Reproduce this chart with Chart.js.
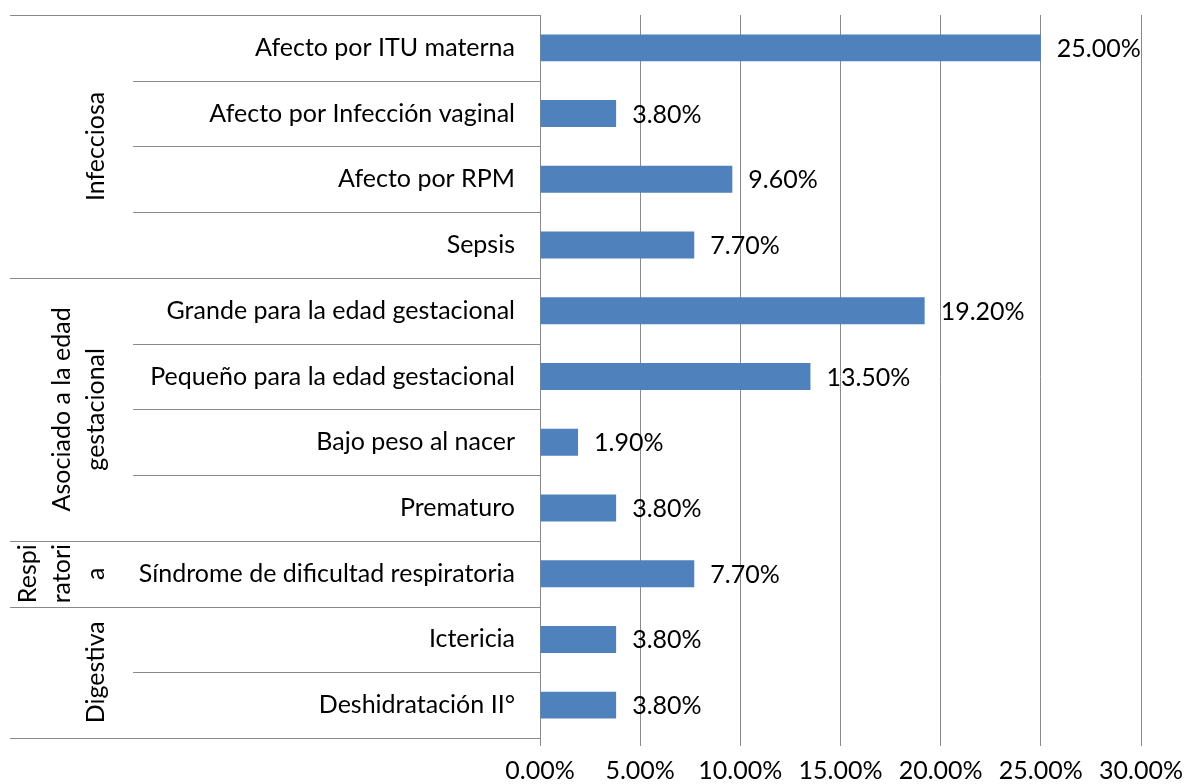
<!DOCTYPE html>
<html>
<head>
<meta charset="utf-8">
<script src="https://cdn.jsdelivr.net/npm/chart.js@4.4.1/dist/chart.umd.min.js"></script>
<style>
html,body{margin:0;padding:0;background:#fff;}
#c{display:block;}
</style>
</head>
<body>
<canvas id="c" width="1189" height="784"></canvas>
<script>
const categories = [
  'Afecto por ITU materna',
  'Afecto por Infección vaginal',
  'Afecto por RPM',
  'Sepsis',
  'Grande para la edad gestacional',
  'Pequeño para la edad gestacional',
  'Bajo peso al nacer',
  'Prematuro',
  'Síndrome de dificultad respiratoria',
  'Ictericia',
  'Deshidratación II°'
];
const values = [25.0, 3.8, 9.6, 7.7, 19.2, 13.5, 1.9, 3.8, 7.7, 3.8, 3.8];
const groupLabels = [['Infecciosa'], ['Asociado a la edad', 'gestacional'], ['Respi', 'ratori', 'a'], ['Digestiva']];
const groupSizes = [4, 4, 1, 2];
const xTickValues = [0, 5, 10, 15, 20, 25, 30];

const FONT = 'Lato, Carlito, "Liberation Sans", sans-serif';
const FS = 25;
const GRID = '#8a8a8a';

const fmt = v => v.toFixed(2) + '%';

const decoPlugin = {
  id: 'deco',
  afterDraw(chart) {
    const ctx = chart.ctx;
    const ys = chart.scales.y;
    const left = chart.chartArea.left;
    const p0 = ys.getPixelForValue(0);
    const step = ys.getPixelForValue(1) - p0;
    const bound = k => p0 + (k - 0.5) * step;
    const groupStarts = new Set([0]);
    let acc = 0;
    groupSizes.forEach(s => { acc += s; groupStarts.add(acc); });
    ctx.save();
    ctx.strokeStyle = GRID;
    ctx.lineWidth = 1;
    for (let k = 0; k <= categories.length; k++) {
      const y = Math.round(bound(k)) + 0.5;
      const x0 = groupStarts.has(k) ? 10 : 133;
      ctx.beginPath();
      ctx.moveTo(x0, y);
      ctx.lineTo(left, y);
      ctx.stroke();
    }
    ctx.fillStyle = '#000';
    ctx.font = FS + 'px ' + FONT;
    ctx.textAlign = 'center';
    ctx.textBaseline = 'middle';
    let start = 0;
    groupSizes.forEach((s, gi) => {
      const cy = (bound(start) + bound(start + s)) / 2;
      const lines = groupLabels[gi];
      ctx.save();
      ctx.translate(96, cy);
      ctx.rotate(-Math.PI / 2);
      lines.forEach((ln, j) => {
        ctx.fillText(ln, 0, (j - (lines.length - 1)) * 34);
      });
      ctx.restore();
      start += s;
    });
    const meta = chart.getDatasetMeta(0);
    ctx.textAlign = 'left';
    meta.data.forEach((bar, i) => {
      ctx.fillText(fmt(values[i]), bar.x + 16, bar.y + 1);
    });
    ctx.restore();
  }
};

new Chart(document.getElementById('c'), {
  type: 'bar',
  data: {
    labels: categories,
    datasets: [{
      data: values,
      backgroundColor: '#4F81BD',
      borderWidth: 0,
      barPercentage: 0.41,
      categoryPercentage: 1
    }]
  },
  plugins: [decoPlugin],
  options: {
    indexAxis: 'y',
    responsive: false,
    animation: false,
    devicePixelRatio: 1,
    layout: { padding: { top: 15, right: 48, left: 0, bottom: 0 } },
    plugins: { legend: { display: false }, tooltip: { enabled: false } },
    scales: {
      x: {
        type: 'linear',
        position: 'bottom',
        min: 0,
        max: 30,
        afterBuildTicks(scale) { scale.ticks = xTickValues.map(v => ({ value: v })); },
        afterFit(scale) { scale.height = 46; scale.paddingLeft = 0; scale.paddingRight = 0; },
        grid: { color: GRID, lineWidth: 1, tickLength: 8, drawTicks: true },
        border: { display: false },
        ticks: {
          callback: v => fmt(v),
          color: '#000',
          font: { family: FONT, size: FS },
          padding: 10,
          maxRotation: 0
        }
      },
      y: {
        type: 'category',
        afterFit(scale) { scale.width = 540; scale.paddingTop = 0; scale.paddingBottom = 0; },
        grid: { display: false },
        border: { display: true, color: GRID, width: 1 },
        ticks: {
          color: '#000',
          font: { family: FONT, size: FS },
          padding: 17,
          autoSkip: false
        }
      }
    }
  }
});
</script>
</body>
</html>
